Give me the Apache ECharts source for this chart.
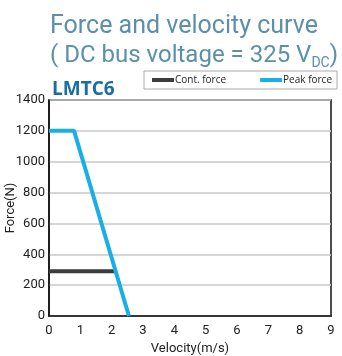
<!DOCTYPE html>
<html><head><meta charset="utf-8">
<script src="https://cdn.jsdelivr.net/npm/echarts@6/dist/echarts.min.js"></script>
<style>html,body{margin:0;padding:0;background:#fff}#c{width:342px;height:356px}</style>
</head><body><div id="c"></div>
<script>
const xTicks = [0,1,2,3,4,5,6,7,8,9];
const yTicks = [0,200,400,600,800,1000,1200,1400];
const contForce = [[0,290],[2.1,290]];
const peakForce = [[0,1200],[0.8,1200],[2.55,0]];
const seriesNames = ['Cont. force','Peak force'];

const chart = echarts.init(document.getElementById('c'));
chart.setOption({
  animation:false,
  backgroundColor:'#fff',
  title:[{
    text:'{a|Force and velocity curve}\n{b|( DC bus voltage = 325 V}{s|DC}{b|)}',
    left:45, top:7,
    textStyle:{fontWeight:'normal',rich:{
      a:{fontFamily:'Roboto',fontWeight:'normal',fontSize:25,color:'#5b8fab',lineHeight:29},
      b:{fontFamily:'Roboto',fontWeight:'normal',fontSize:24,color:'#5b8fab',lineHeight:29},
      s:{fontFamily:'Roboto',fontWeight:'normal',fontSize:14,color:'#5b8fab',lineHeight:29,verticalAlign:'bottom',padding:[8,0,0,0]}
    }}
  },{
    text:'LMTC6', left:47, top:75,
    textStyle:{fontFamily:'Open Sans',fontWeight:'bold',fontSize:19,color:'#1b6ea2'}
  }],
  legend:{
    data:seriesNames, left:144, top:71, width:188,
    borderColor:'#aaa', borderWidth:1, padding:[4,5,4,8], itemGap:34,
    icon:'rect', itemWidth:22, itemHeight:4,
    textStyle:{fontFamily:'Open Sans',fontSize:10,color:'#222',padding:[0,0,0,-4]}
  },
  grid:{left:49,right:11,top:100,bottom:40,containLabel:false,outerBoundsMode:'none',show:true,borderColor:'#111',borderWidth:1.5},
  xAxis:{
    type:'value', min:xTicks[0], max:xTicks[xTicks.length-1], interval:1,
    name:'Velocity(m/s)', nameLocation:'middle', nameGap:26, nameMoveOverlap:false,
    nameTextStyle:{fontFamily:'Roboto',fontSize:13,color:'#222'},
    axisLine:{show:true,lineStyle:{color:'#111',width:1.5}},
    axisTick:{show:false}, splitLine:{show:false},
    axisLabel:{fontFamily:'Roboto',fontSize:13,color:'#222',margin:8}
  },
  yAxis:{
    type:'value', min:yTicks[0], max:yTicks[yTicks.length-1], interval:200,
    name:'Force(N)', nameLocation:'middle', nameGap:32, nameMoveOverlap:false,
    nameTextStyle:{fontFamily:'Roboto',fontSize:13,color:'#222'},
    axisLine:{show:true,lineStyle:{color:'#111',width:1.5}},
    axisTick:{show:false},
    splitLine:{show:true,lineStyle:{color:'#c8c8c8',width:1.5}},
    axisLabel:{fontFamily:'Roboto',fontSize:13,color:'#222',margin:4,formatter:v=>String(v)}
  },
  series:[
    {name:seriesNames[0],type:'line',data:contForce,showSymbol:false,symbol:'none',
     lineStyle:{color:'#3c3c3c',width:4},itemStyle:{color:'#3c3c3c'}},
    {name:seriesNames[1],type:'line',data:peakForce,showSymbol:false,symbol:'none',
     lineStyle:{color:'#1aaee6',width:4},itemStyle:{color:'#1aaee6'}}
  ]
});
</script></body></html>
